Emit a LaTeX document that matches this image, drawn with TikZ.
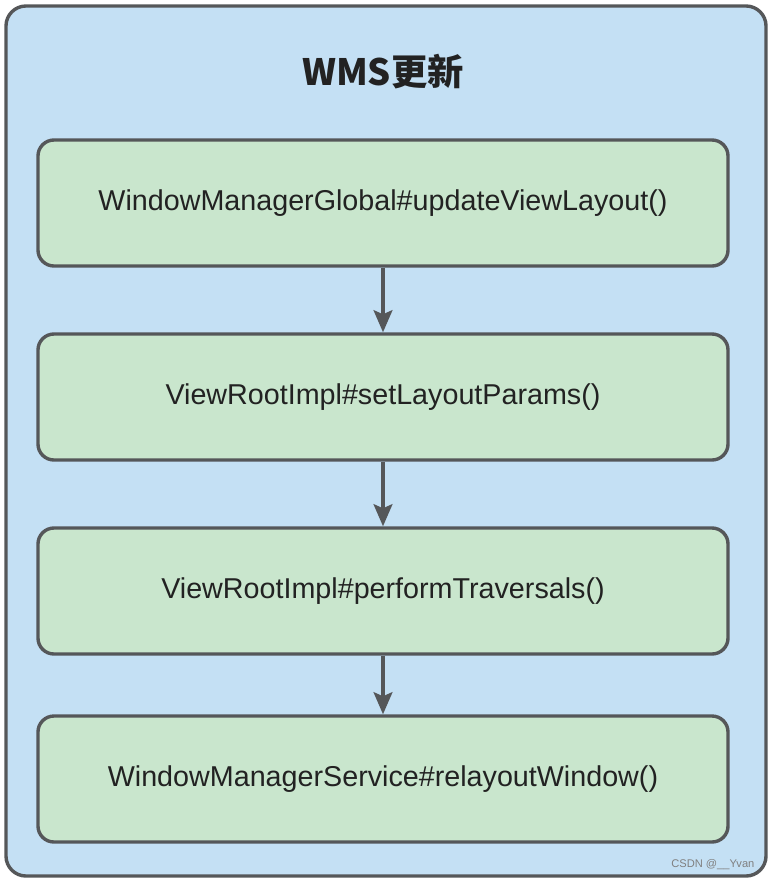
\documentclass[tikz,border=0pt]{standalone}
\usepackage{fontspec}
\setmainfont{Liberation Sans}
\newfontfamily\cjk{Noto Sans CJK SC}
\usepackage{tikz}
\usetikzlibrary{arrows.meta}

\definecolor{wmsBlue}{RGB}{196,224,244}
\definecolor{wmsGreen}{RGB}{201,230,205}
\definecolor{wmsLine}{RGB}{85,87,89}
\definecolor{wmsText}{RGB}{34,34,34}

\begin{document}
\begin{tikzpicture}[x=0.03cm, y=-0.03cm, line width=2.9pt, draw=wmsLine]
            \useasboundingbox (0,0) rectangle (774,882);

            \tikzstyle{stepBox}=[draw=wmsLine, fill=wmsGreen, rounded corners=0.48cm, text=wmsText,
                minimum width=20.7cm, minimum height=3.78cm, font=\fontsize{24.5}{29}\selectfont];
            \tikzstyle{flow}=[-{Stealth[length=0.66cm, width=0.56cm, inset=0.12cm]}, wmsLine, line width=3.3pt];

            \node[draw=wmsLine, fill=wmsBlue, rounded corners=0.6cm, minimum width=22.8cm,
                minimum height=26.1cm] (frame) at (386,441) {};
            \node[text=wmsText] (title) at (383,72) {\cjk\bfseries\fontsize{31}{36}\selectfont WMS更新};

            \node[stepBox] (global) at (383,203) {WindowManagerGlobal\#updateViewLayout()};
            \node[stepBox] (params) at (383,397) {ViewRootImpl\#setLayoutParams()};
            \node[stepBox] (traverse) at (383,591) {ViewRootImpl\#performTraversals()};
            \node[stepBox] (relayout) at (383,779) {WindowManagerService\#relayoutWindow()};

            \draw[flow] (global) -- (params);
            \draw[flow] (params) -- (traverse);
            \draw[flow] (traverse) -- (relayout);

            \node[text=gray, font=\fontsize{9.5}{11}\selectfont, anchor=south east] (mark) at (760,875) {CSDN @\_\_Yvan};
         \end{tikzpicture}
\end{document}
